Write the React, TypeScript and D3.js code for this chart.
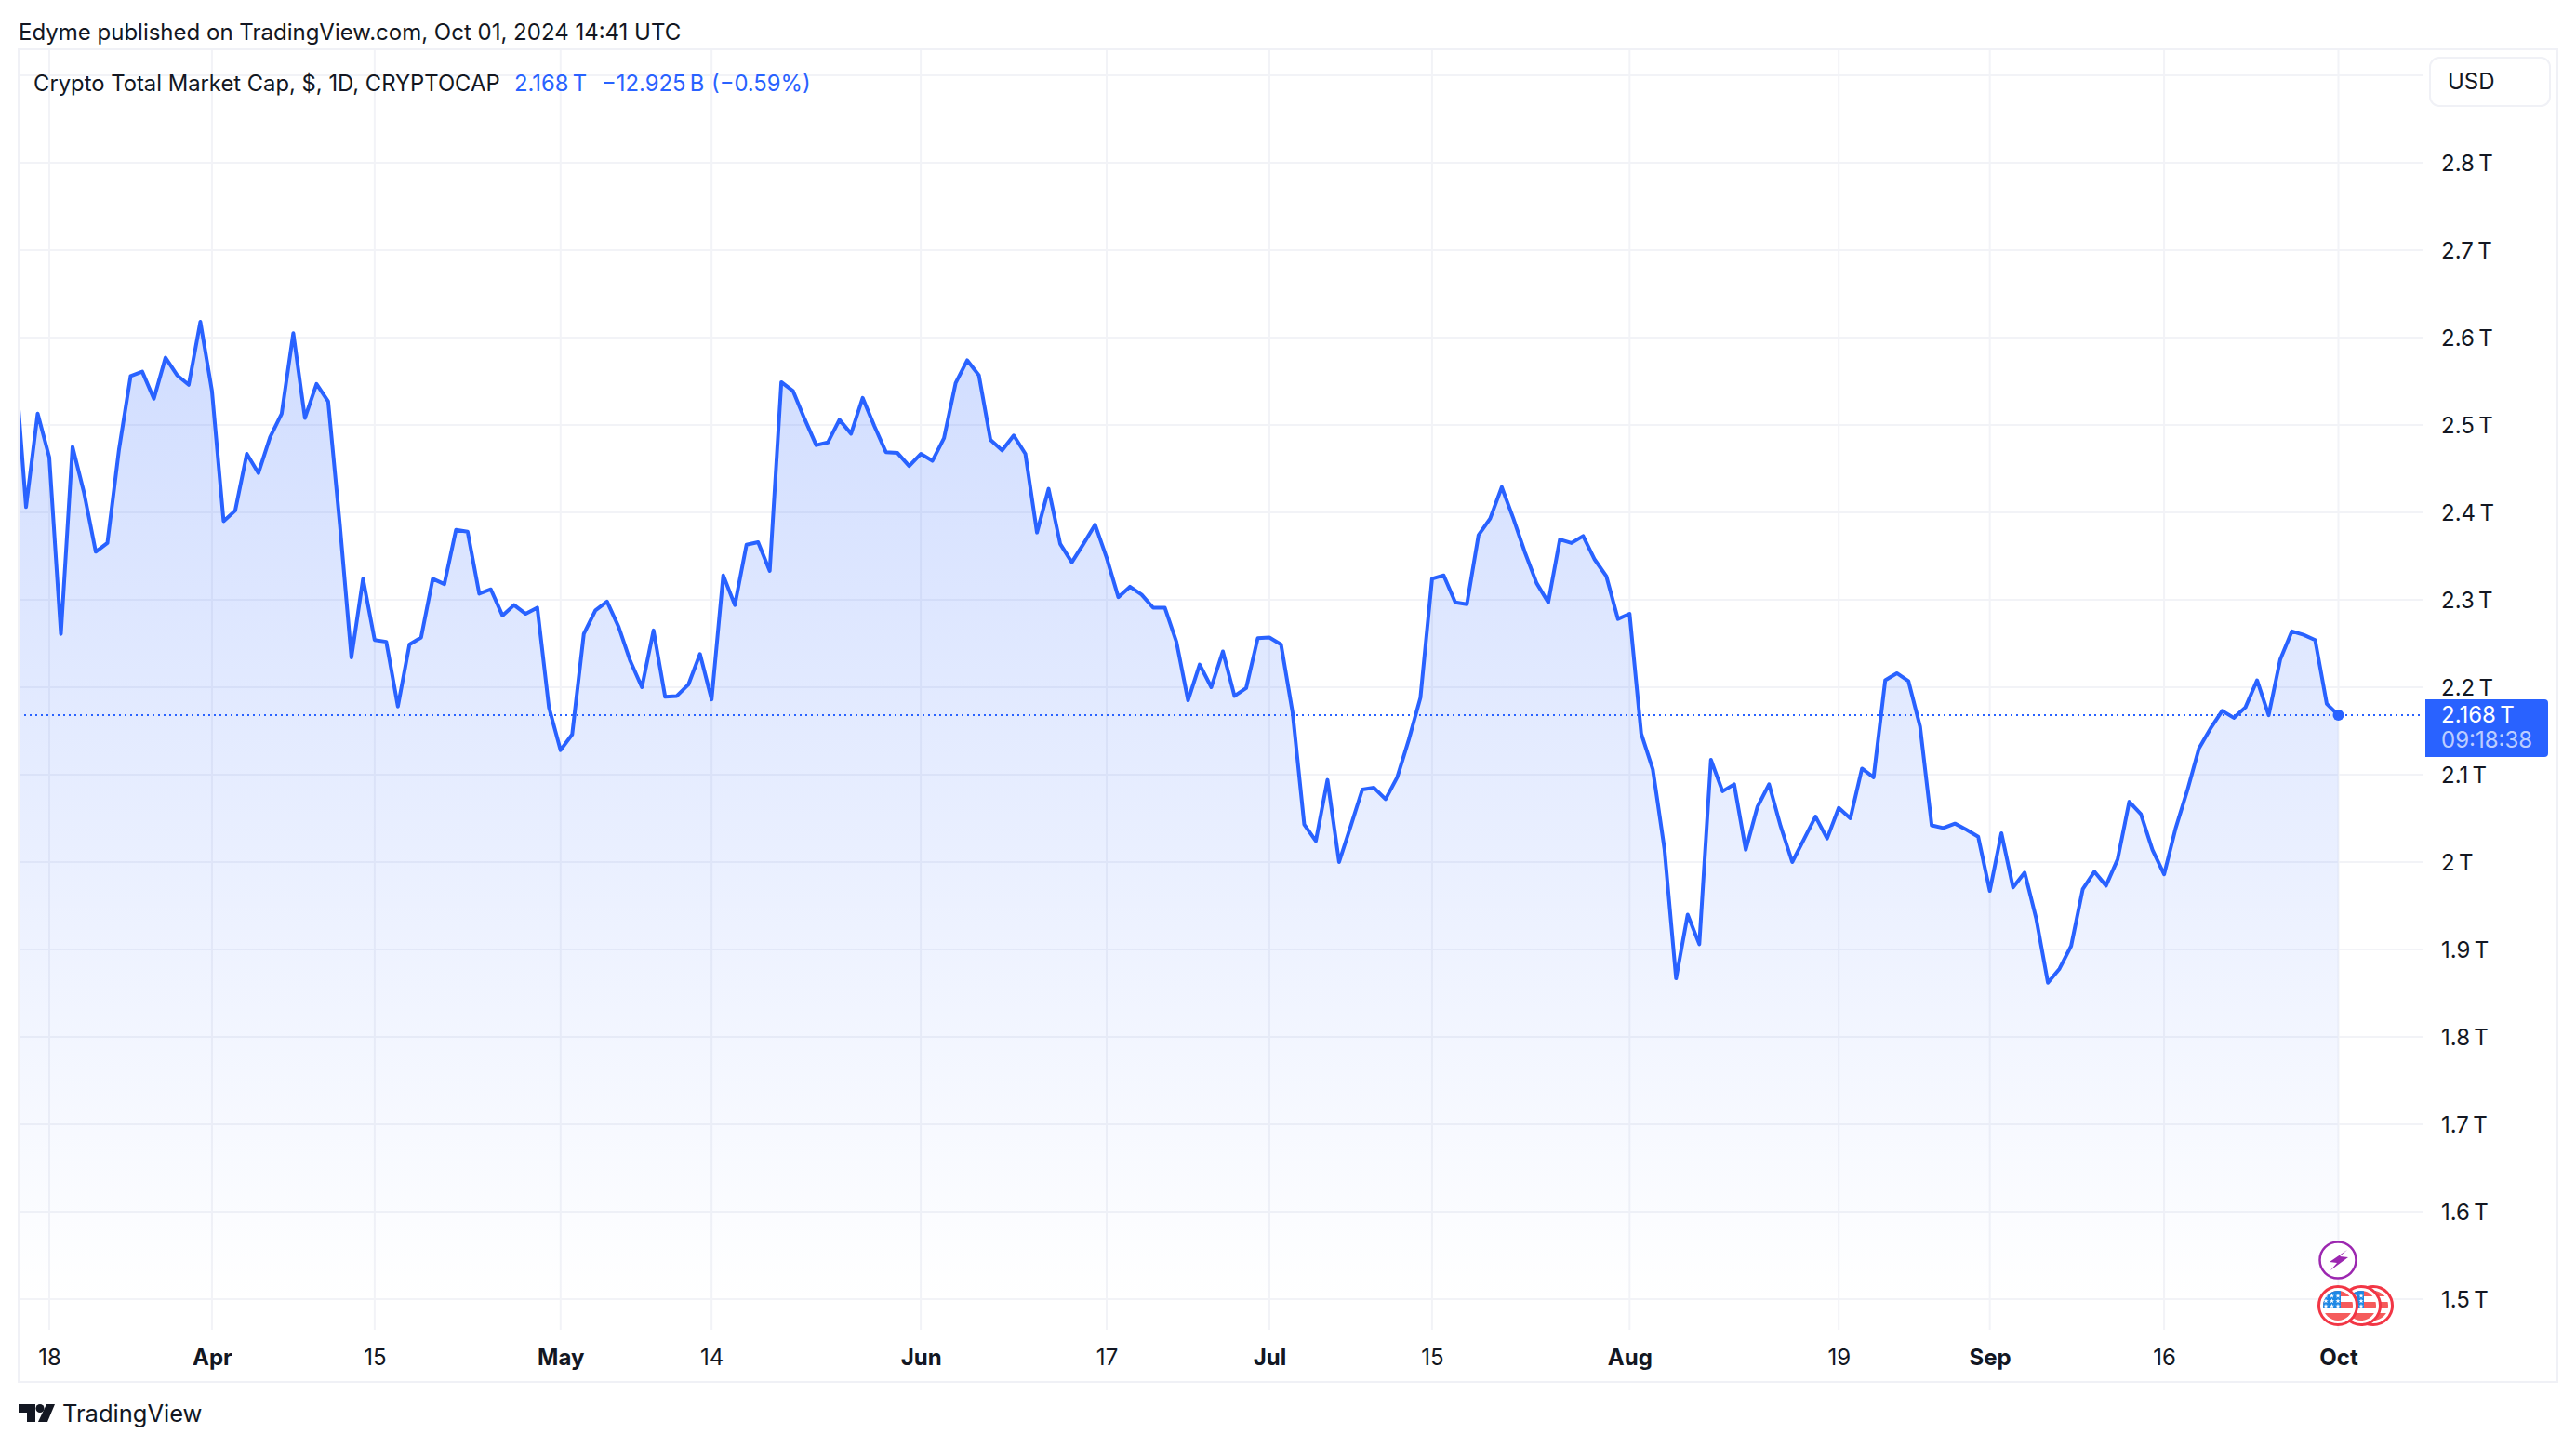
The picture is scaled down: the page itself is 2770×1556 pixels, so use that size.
import React, { useRef, useEffect } from 'react';
import * as d3 from 'd3';

// daily total market cap in trillions, one list per month
const marValues = [2.58, 2.406, 2.513, 2.463, 2.261, 2.475, 2.422, 2.355, 2.365, 2.472, 2.556, 2.561, 2.53, 2.577, 2.557, 2.546, 2.618];
const aprValues = [2.539, 2.39, 2.402, 2.467, 2.445, 2.486, 2.513, 2.605, 2.508, 2.547, 2.527, 2.387, 2.234, 2.324, 2.254, 2.252, 2.178, 2.249, 2.257, 2.324, 2.318, 2.38, 2.378, 2.307, 2.312, 2.282, 2.294, 2.284, 2.291, 2.177];
const mayValues = [2.128, 2.146, 2.261, 2.288, 2.298, 2.269, 2.23, 2.2, 2.265, 2.189, 2.19, 2.203, 2.238, 2.186, 2.328, 2.294, 2.363, 2.366, 2.333, 2.549, 2.539, 2.507, 2.477, 2.48, 2.506, 2.49, 2.531, 2.499, 2.469, 2.468, 2.453];
const junValues = [2.467, 2.459, 2.485, 2.548, 2.574, 2.557, 2.483, 2.471, 2.488, 2.467, 2.377, 2.427, 2.364, 2.343, 2.364, 2.386, 2.348, 2.303, 2.315, 2.306, 2.291, 2.291, 2.252, 2.185, 2.226, 2.2, 2.241, 2.19, 2.199, 2.256];
const julValues = [2.257, 2.249, 2.171, 2.043, 2.024, 2.094, 2.0, 2.041, 2.083, 2.085, 2.072, 2.097, 2.14, 2.188, 2.324, 2.328, 2.297, 2.295, 2.374, 2.393, 2.429, 2.393, 2.354, 2.319, 2.297, 2.369, 2.365, 2.373, 2.346, 2.327, 2.278];
const augValues = [2.284, 2.147, 2.106, 2.015, 1.867, 1.94, 1.906, 2.117, 2.081, 2.089, 2.014, 2.063, 2.089, 2.041, 2.0, 2.026, 2.052, 2.027, 2.062, 2.05, 2.107, 2.097, 2.208, 2.216, 2.207, 2.155, 2.042, 2.039, 2.044, 2.037, 2.029];
const sepValues = [1.967, 2.033, 1.971, 1.988, 1.935, 1.862, 1.878, 1.904, 1.969, 1.989, 1.973, 2.003, 2.069, 2.055, 2.014, 1.986, 2.039, 2.082, 2.13, 2.153, 2.173, 2.165, 2.177, 2.208, 2.168, 2.232, 2.264, 2.26, 2.254, 2.181];
const octValues = [2.168];

const firstDay = Date.UTC(2024, 2, 15);
const closes = [...marValues, ...aprValues, ...mayValues, ...junValues, ...julValues, ...augValues, ...sepValues, ...octValues];

const gridPrices = [1.5, 1.6, 1.7, 1.8, 1.9, 2, 2.1, 2.2, 2.3, 2.4, 2.5, 2.6, 2.7, 2.8, 2.9];
const labelPrices = gridPrices.slice(0, -1);

const timeTicks = [
  Date.UTC(2024, 2, 18), Date.UTC(2024, 3, 1), Date.UTC(2024, 3, 15), Date.UTC(2024, 4, 1),
  Date.UTC(2024, 4, 14), Date.UTC(2024, 5, 1), Date.UTC(2024, 5, 17), Date.UTC(2024, 6, 1),
  Date.UTC(2024, 6, 15), Date.UTC(2024, 7, 1), Date.UTC(2024, 7, 19), Date.UTC(2024, 8, 1),
  Date.UTC(2024, 8, 16), Date.UTC(2024, 9, 1),
];
const timeLabels = ['18', 'Apr', '15', 'May', '14', 'Jun', '17', 'Jul', '15', 'Aug', '19', 'Sep', '16', 'Oct'];

const lastClose = 2.168;
const LINE = '#2962ff';
const INK = '#131722';
const GRID = '#f2f3f7';
const BORDER = '#f0f1f6';
const FONT = 'Inter, sans-serif';

const W = 2770;
const H = 1556;
const plot = { left: 20, right: 2606, top: 53, bottom: 1430 };

const x = d3.scaleUtc().domain([timeTicks[0], timeTicks[timeTicks.length - 1]]).range([53, 2514.5]);
const y = d3.scaleLinear().domain([1.5, 2.8]).range([1397, 175]);

const points = closes.map((v, i) => ({ t: firstDay + i * 864e5, v }));

const FlagIcon = ({ cx, cy, id }: { cx: number; cy: number; id: string }) => {
  const star = d3.symbol(d3.symbolStar).size(9)() as string;
  const stars = d3.cross([-13, -6.5, 0], [-10.5, -5, 0.5]);
  return (
    <g transform={`translate(${cx},${cy})`}>
      <clipPath id={id}><circle r={16} /></clipPath>
      <circle r={20.5} fill="#fff" stroke="#f23645" strokeWidth={3} />
      <g clipPath={`url(#${id})`}>
        <rect x={-16} y={-16} width={32} height={32} fill="#fff" />
        <rect x={-16} y={-16} width={32} height={6} fill="#f55b5b" />
        <rect x={-16} y={-4} width={32} height={7} fill="#f55b5b" />
        <rect x={-16} y={8} width={32} height={9} fill="#f55b5b" />
        <rect x={-17} y={-16} width={20} height={18} fill="#1e88e5" />
        {stars.map(([sx, sy], i) => (
          <path key={i} d={star} fill="#fff" transform={`translate(${sx},${sy})`} />
        ))}
      </g>
    </g>
  );
};

const App = () => {
  const gridRef = useRef<SVGGElement | null>(null);
  const seriesRef = useRef<SVGGElement | null>(null);
  const axisRef = useRef<SVGGElement | null>(null);

  useEffect(() => {
    const grid = d3.select(gridRef.current);
    grid.selectAll('*').remove();
    grid.selectAll('line.h').data(gridPrices).enter().append('line')
      .attr('x1', plot.left).attr('x2', plot.right)
      .attr('y1', d => y(d)).attr('y2', d => y(d))
      .attr('stroke', GRID).attr('stroke-width', 2);
    grid.selectAll('line.v').data(timeTicks).enter().append('line')
      .attr('x1', d => x(d)).attr('x2', d => x(d))
      .attr('y1', plot.top).attr('y2', plot.bottom)
      .attr('stroke', GRID).attr('stroke-width', 2);

    const series = d3.select(seriesRef.current);
    series.selectAll('*').remove();
    const area = d3.area<{ t: number; v: number }>()
      .x(d => x(d.t)).y0(1400).y1(d => y(d.v));
    const line = d3.line<{ t: number; v: number }>()
      .x(d => x(d.t)).y(d => y(d.v));
    series.append('path').datum(points).attr('d', area).attr('fill', 'url(#capFill)');
    series.append('path').datum(points).attr('d', line)
      .attr('fill', 'none').attr('stroke', LINE).attr('stroke-width', 4)
      .attr('stroke-linejoin', 'round').attr('stroke-linecap', 'round');

    const axes = d3.select(axisRef.current);
    axes.selectAll('*').remove();
    const yAxis = axes.append('g').attr('transform', 'translate(2625,0)')
      .call(d3.axisRight(y).tickValues(labelPrices).tickSize(0).tickPadding(0).tickFormat(d => `${d}\u202fT`));
    const xAxis = axes.append('g').attr('transform', `translate(0,${plot.bottom})`)
      .call(d3.axisBottom(x).tickValues(timeTicks).tickSize(0).tickFormat((_, i) => timeLabels[i]));
    axes.selectAll('.domain').remove();
    axes.selectAll('text').attr('font-family', FONT).attr('font-size', 24).attr('fill', INK);
    yAxis.selectAll('text').attr('x', 0).attr('y', 0).attr('dy', '0.35em');
    xAxis.selectAll('text').attr('y', 38).attr('dy', 0)
      .attr('font-weight', (_, i) => (/[a-z]/.test(timeLabels[i]) ? 700 : 400));
  }, []);

  return (
    <svg width={W} height={H} viewBox={`0 0 ${W} ${H}`} style={{ position: 'absolute', left: 0, top: 0, display: 'block' }} fontFamily={FONT}>
      <defs>
        <linearGradient id="capFill" gradientUnits="userSpaceOnUse" x1={0} x2={0} y1={340} y2={1400}>
          <stop offset="0%" stopColor={LINE} stopOpacity={0.22} />
          <stop offset="100%" stopColor={LINE} stopOpacity={0} />
        </linearGradient>
        <clipPath id="plotClip">
          <rect x={plot.left} y={plot.top} width={plot.right - plot.left} height={plot.bottom - plot.top} />
        </clipPath>
      </defs>
      <rect width={W} height={H} fill="#fff" />

      <text x={20} y={43} fontSize={24} fill={INK}>Edyme published on TradingView.com, Oct 01, 2024 14:41 UTC</text>

      <g ref={gridRef} />
      <g ref={seriesRef} clipPath="url(#plotClip)" />

      <line x1={plot.left} x2={plot.right} y1={y(lastClose)} y2={y(lastClose)} stroke={LINE} strokeWidth={2} strokeDasharray="2 4" />
      <circle cx={x(timeTicks[timeTicks.length - 1])} cy={y(lastClose)} r={6} fill={LINE} />

      <rect x={20} y={53} width={2730} height={1433} fill="none" stroke={BORDER} strokeWidth={2} />

      <g ref={axisRef} />

      <text x={36} y={98} fontSize={23.8} fill={INK}>Crypto Total Market Cap, $, 1D, CRYPTOCAP</text>
      <text x={553} y={98} fontSize={23.8} fill={LINE}>2.168{'\u202f'}T</text>
      <text x={647} y={98} fontSize={23.8} fill={LINE}>{'\u2212'}12.925{'\u202f'}B</text>
      <text x={765} y={98} fontSize={23.8} fill={LINE}>({'\u2212'}0.59%)</text>

      <rect x={2613} y={62} width={129} height={52} rx={10} fill="#fff" stroke={BORDER} strokeWidth={2} />
      <text x={2632} y={96} fontSize={24} fill={INK}>USD</text>

      <path d="M2608,752 H2736 a4,4 0 0 1 4,4 V810 a4,4 0 0 1 -4,4 H2608 Z" fill={LINE} />
      <text x={2625} y={777} fontSize={24} fill="#fff">2.168{'\u202f'}T</text>
      <text x={2625} y={804} fontSize={24} fill="#fff" fillOpacity={0.7}>09:18:38</text>

      <circle cx={2514} cy={1355} r={19.5} fill="#fff" stroke="#9c27b0" strokeWidth={2.5} />
      <path d="M2524,1344 L2505,1357 L2513,1358 L2506,1366 L2525,1352 L2516,1351 Z" fill="#9c27b0" />
      <FlagIcon cx={2552} cy={1404} id="flag3" />
      <FlagIcon cx={2539} cy={1404} id="flag2" />
      <FlagIcon cx={2514} cy={1404} id="flag1" />

      <path d="M20,1510 H38 V1529 H29 V1519 H20 Z" fill={INK} />
      <circle cx={43} cy={1514.5} r={4.5} fill={INK} />
      <path d="M50,1510 H59 L51,1529 H41 Z" fill={INK} />
      <text x={67} y={1529} fontSize={25.5} fill={INK}>TradingView</text>
    </svg>
  );
};

export default App;
